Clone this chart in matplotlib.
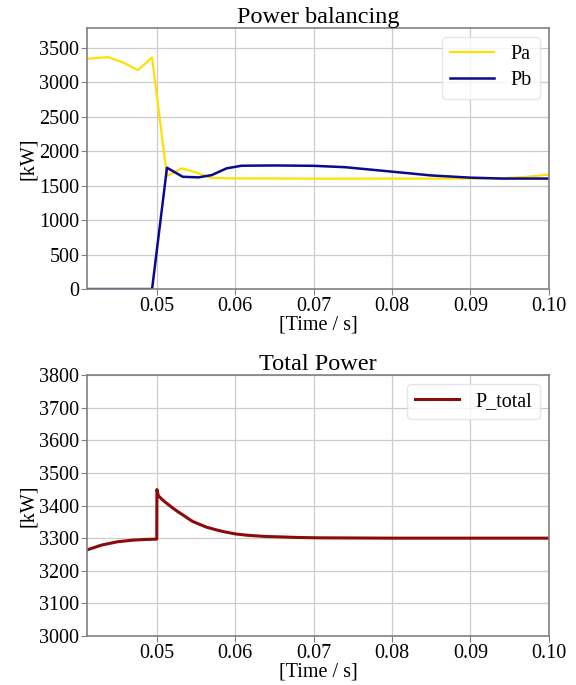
import matplotlib
matplotlib.use("Agg")
import matplotlib.pyplot as plt

plt.rcParams['font.family'] = ['Liberation Serif', 'DejaVu Serif']

# Power balancing (top)
t_pa = [0.0411, 0.0438, 0.0457, 0.0476, 0.0494, 0.0513, 0.0532, 0.0551,
        0.0570, 0.0589, 0.065, 0.07, 0.08, 0.09, 0.094, 0.097, 0.10]
pa = [3344, 3369, 3290, 3180, 3363, 1641, 1754, 1690,
      1615, 1608, 1606, 1603, 1604, 1605, 1610, 1628, 1662]

t_pb = [0.0411, 0.0494, 0.0513, 0.0533, 0.0553, 0.0570, 0.0589, 0.0608,
        0.065, 0.07, 0.074, 0.08, 0.085, 0.09, 0.094, 0.10]
pb = [0, 0, 1762, 1631, 1622, 1655, 1753, 1791,
      1795, 1790, 1770, 1705, 1650, 1618, 1605, 1605]

# Total power (bottom)
t_tot = [0.0411, 0.043, 0.045, 0.047, 0.0485, 0.05, 0.05002, 0.0502, 0.0507,
         0.0512, 0.052, 0.0527, 0.0534, 0.054, 0.0546, 0.0555, 0.0563, 0.0575,
         0.0585, 0.06, 0.0615, 0.0627, 0.064, 0.0656, 0.068, 0.0708, 0.08,
         0.09, 0.10]
p_tot = [3264, 3279, 3289, 3294, 3296, 3297, 3449, 3430, 3418,
         3408, 3393, 3381, 3370, 3360, 3351, 3342, 3334, 3326,
         3320, 3313, 3309, 3307, 3305, 3304, 3302, 3301, 3300,
         3300, 3300]

xticks = [0.05, 0.06, 0.07, 0.08, 0.09, 0.10]

fig = plt.figure(figsize=(5.76, 6.85), dpi=100)
ax1 = fig.add_axes([0.151, 0.578, 0.802, 0.381])
ax2 = fig.add_axes([0.151, 0.0715, 0.802, 0.381])

ax1.plot(t_pa, pa, color='#ffe000', lw=1.6, label='Pa')
ax1.plot(t_pb, pb, color='#0a0a8c', lw=1.8, label='Pb')
ax1.set_ylim(0, 3790)
ax1.set_yticks(range(0, 3501, 500))
ax1.set_title('Power balancing', fontsize=17.5, pad=3)

ax2.plot(t_tot, p_tot, color='#8b0a0a', lw=2.2, label='P_total')
ax2.set_ylim(3000, 3800)
ax2.set_yticks(range(3000, 3801, 100))
ax2.set_title('Total Power', fontsize=17.5, pad=3)

for ax in (ax1, ax2):
    ax.set_xlim(0.0411, 0.1)
    ax.set_xticks(xticks)
    ax.set_xticklabels([f'{v:.2f}' for v in xticks])
    ax.set_xlabel('[Time / s]', fontsize=14.5, labelpad=0)
    ax.set_ylabel('[kW]', fontsize=14.5, labelpad=1)
    ax.grid(True, color='#cccccc', lw=0.9)
    ax.tick_params(labelsize=14.5, color='#808080', length=4, pad=1.5)
    for s in ax.spines.values():
        s.set_color('#808080')
        s.set_linewidth(1.2)
    ax.legend(loc='upper right', fontsize=14.5, framealpha=0.8,
              edgecolor='#e0e0e0', handlelength=2.2, labelspacing=0.35,
              borderaxespad=0.45)

fig.savefig('out.png', dpi=100)
